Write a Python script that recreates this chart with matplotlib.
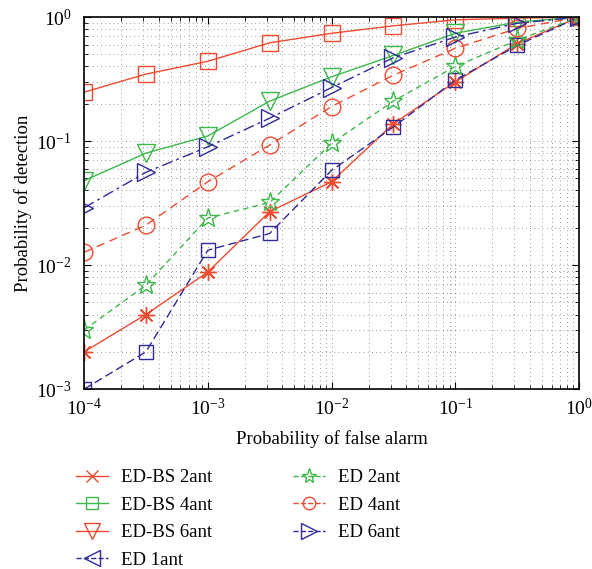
import matplotlib
matplotlib.use("Agg")
import matplotlib.pyplot as plt
from matplotlib.lines import Line2D
import numpy as np

plt.rcParams["font.family"] = "Liberation Serif"
plt.rcParams["mathtext.fontset"] = "custom"
plt.rcParams["mathtext.rm"] = "Liberation Serif"
plt.rcParams["mathtext.it"] = "Liberation Serif:italic"

RED = "#f04a30"
GREEN = "#3cb94a"
BLUE = "#2e2a9a"

# probability of false alarm
pfa = [1e-4, 3.16e-4, 1e-3, 3.16e-3, 1e-2, 3.16e-2, 1e-1, 3.16e-1, 1.0]

# probability of detection for each curve
pd_red_star = [0.002, 0.004, 0.0088, 0.027, 0.047, 0.138, 0.30, 0.61, 1.0]
pd_red_square = [0.248, 0.347, 0.44, 0.62, 0.74, 0.85, 0.95, 0.98, 1.0]
pd_green_tri = [0.048, 0.08, 0.11, 0.21, 0.33, 0.49, 0.74, 0.91, 1.0]
pd_blue_square = [0.001, 0.002, 0.0132, 0.018, 0.058, 0.13, 0.31, 0.59, 1.0]
pd_green_star = [0.003, 0.0069, 0.024, 0.032, 0.096, 0.21, 0.40, 0.65, 1.0]
pd_red_circle = [0.0127, 0.021, 0.047, 0.093, 0.19, 0.34, 0.56, 0.81, 1.0]
pd_blue_tri = [0.029, 0.056, 0.09, 0.153, 0.27, 0.47, 0.69, 0.89, 1.0]

legend_labels = ["ED-BS 2ant", "ED-BS 4ant", "ED-BS 6ant", "ED 1ant",
                 "ED 2ant", "ED 4ant", "ED 6ant"]

fig = plt.figure(figsize=(5.92, 5.69), dpi=100)
ax = fig.add_axes([0.142, 0.316, 0.836, 0.654])

kw = dict(markerfacecolor="none", linewidth=1.0, markeredgewidth=1.0)
ax.loglog(pfa, pd_red_star, "-", color=RED, marker=(8, 2, 0), markersize=12, **kw)
ax.loglog(pfa, pd_red_square, "-", color=RED, marker="s", markersize=11, **kw)
ax.loglog(pfa, pd_green_tri, "-", color=GREEN, marker="v", markersize=13, **kw)
ax.loglog(pfa, pd_blue_square, "--", color=BLUE, marker="s", markersize=10, dashes=(6, 3), **kw)
ax.loglog(pfa, pd_green_star, "--", color=GREEN, marker="*", markersize=14, dashes=(4, 3), **kw)
ax.loglog(pfa, pd_red_circle, "--", color=RED, marker="o", markersize=12, dashes=(6, 4), **kw)
ax.loglog(pfa, pd_blue_tri, "-.", color=BLUE, marker=">", markersize=13, dashes=(8, 3, 2, 3), **kw)

ax.set_xlim(1e-4, 1)
ax.set_ylim(1e-3, 1)
ax.grid(True, which="both", linestyle=(0, (1, 5)), color="0.25", linewidth=0.5)
ax.tick_params(which="both", direction="in", top=True, right=True, labelsize=14)
ax.tick_params(axis="x", which="major", pad=6)
ax.tick_params(axis="y", which="major", pad=9)
ax.tick_params(which="major", length=5)
ax.tick_params(which="minor", length=3)
for s in ax.spines.values():
    s.set_linewidth(1.2)

ax.set_xlabel("Probability of false alarm", fontsize=13.5, labelpad=8)
ax.set_ylabel("Probability of detection", fontsize=13.5, labelpad=3)

# legend as drawn in the reference (markers differ from the plot)
handles = [
    Line2D([], [], color=RED, linestyle="-", marker="x", markersize=9, **kw),
    Line2D([], [], color=GREEN, linestyle="-", marker="s", markersize=8, **kw),
    Line2D([], [], color=RED, linestyle="-", marker="v", markersize=11, **kw),
    Line2D([], [], color=BLUE, linestyle="--", marker="<", markersize=11, **kw),
    Line2D([], [], color=GREEN, linestyle="--", marker="*", markersize=11, **kw),
    Line2D([], [], color=RED, linestyle="--", marker="o", markersize=9, **kw),
    Line2D([], [], color=BLUE, linestyle="--", marker=">", markersize=11, **kw),
]
fig.legend(handles, legend_labels, ncol=2, frameon=False, fontsize=13.5,
           loc="upper left", bbox_to_anchor=(0.10, 0.205), handlelength=1.7,
           labelspacing=0.55, columnspacing=4.3, handletextpad=0.7)

fig.savefig("out.png", dpi=100)
